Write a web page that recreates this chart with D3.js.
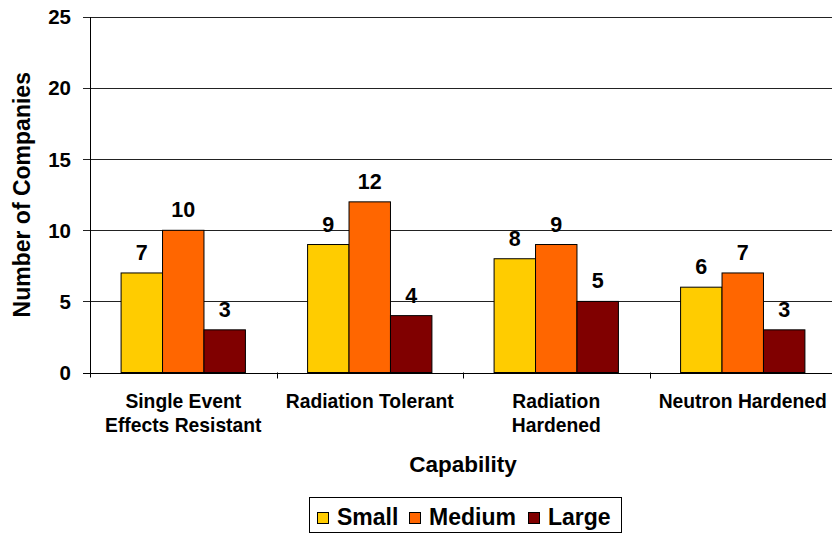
<!DOCTYPE html>
<html>
<head>
<meta charset="utf-8">
<script src="https://cdn.jsdelivr.net/npm/d3@7"></script>
<style>
  body { margin: 0; background: #fff; }
  svg { display: block; font-family: Arial, "Liberation Sans", sans-serif; font-weight: bold; }
</style>
</head>
<body>
<svg id="chart" width="832" height="534"></svg>
<script>
const categories = ["Single Event|Effects Resistant", "Radiation Tolerant", "Radiation|Hardened", "Neutron Hardened"];
const seriesNames = ["Small", "Medium", "Large"];
const small = [7, 9, 8, 6];
const medium = [10, 12, 9, 7];
const large = [3, 4, 5, 3];
const yTicks = [0, 5, 10, 15, 20, 25];
const colors = ["#FFCC00", "#FF6600", "#800000"];

const seriesValues = [small, medium, large];
const svg = d3.select("#chart");

const pL = 90, pR = 836, pT = 17, pB = 372.5;
const x = d3.scaleBand().domain(categories).range([pL, pR]).paddingInner(0).paddingOuter(0);
const xs = d3.scaleBand().domain(seriesNames).range([0, x.bandwidth()]).paddingInner(0).paddingOuter(0.75);
const y = d3.scaleLinear().domain([0, 25]).range([pB, pT]);
const yPix = v => Math.round(y(v)) + 0.5;

// gridlines
svg.append("g").selectAll("line").data(yTicks.filter(t => t > 0)).join("line")
  .attr("x1", pL - 7).attr("x2", pR)
  .attr("y1", d => yPix(d)).attr("y2", d => yPix(d))
  .attr("stroke", "#222").attr("stroke-width", 1);

// y tick labels
svg.append("g").selectAll("text").data(yTicks).join("text")
  .attr("x", 71).attr("y", d => y(d)).attr("dy", "0.36em")
  .attr("text-anchor", "end").attr("font-size", 20.5).text(d => d);

// bars
const rows = (d, i) => seriesNames.map((s, j) => ({s, j, v: seriesValues[j][i]}));
const groups = svg.append("g").selectAll("g").data(categories).join("g")
  .attr("transform", d => `translate(${x(d)},0)`);
groups.selectAll("rect").data(rows).join("rect")
  .attr("x", d => xs(d.s)).attr("width", xs.bandwidth())
  .attr("y", d => y(d.v)).attr("height", d => y(0) - y(d.v))
  .attr("fill", d => colors[d.j]).attr("stroke", "#000").attr("stroke-width", 1);
groups.selectAll("text").data(rows).join("text")
  .attr("x", d => xs(d.s) + xs.bandwidth() / 2).attr("y", d => y(d.v) - 13)
  .attr("text-anchor", "middle").attr("font-size", 21.5).text(d => d.v);

// axes lines
svg.append("line").attr("x1", pL + 0.5).attr("x2", pL + 0.5).attr("y1", pT).attr("y2", pB + 5).attr("stroke", "#000");
svg.append("line").attr("x1", pL - 7).attr("x2", pR).attr("y1", yPix(0)).attr("y2", yPix(0)).attr("stroke", "#000");
// category ticks
svg.append("g").selectAll("line").data(categories.slice(1)).join("line")
  .attr("x1", d => Math.round(x(d)) + 0.5).attr("x2", d => Math.round(x(d)) + 0.5)
  .attr("y1", pB).attr("y2", pB + 6).attr("stroke", "#000");

// category labels
const cl = svg.append("g").selectAll("text").data(categories).join("text")
  .attr("x", d => x(d) + x.bandwidth() / 2).attr("y", 408)
  .attr("text-anchor", "middle").attr("font-size", 19.3);
cl.each(function(d) {
  const lines = d.split("|");
  d3.select(this).selectAll("tspan").data(lines).join("tspan")
    .attr("x", x(d) + x.bandwidth() / 2).attr("dy", (l, i) => i === 0 ? 0 : 24).text(l => l);
});

// axis titles
svg.append("text").attr("x", (pL + pR) / 2).attr("y", 472).attr("text-anchor", "middle")
  .attr("font-size", 22.5).text("Capability");
svg.append("text").attr("transform", `translate(22,${(pT + pB) / 2}) rotate(-90)`)
  .attr("dy", "0.36em").attr("text-anchor", "middle").attr("font-size", 23).text("Number of Companies");

// legend
const lg = svg.append("g");
lg.append("rect").attr("x", 309.5).attr("y", 497.5).attr("width", 312).attr("height", 35)
  .attr("fill", "#fff").attr("stroke", "#000");
const legX = [317, 409, 528];
seriesNames.forEach((s, j) => {
  lg.append("rect").attr("x", legX[j] + 0.5).attr("y", 512.5).attr("width", 11).attr("height", 11)
    .attr("fill", colors[j]).attr("stroke", "#000");
  lg.append("text").attr("x", legX[j] + 20).attr("y", 525).attr("font-size", 23).text(s);
});
</script>
</body>
</html>
